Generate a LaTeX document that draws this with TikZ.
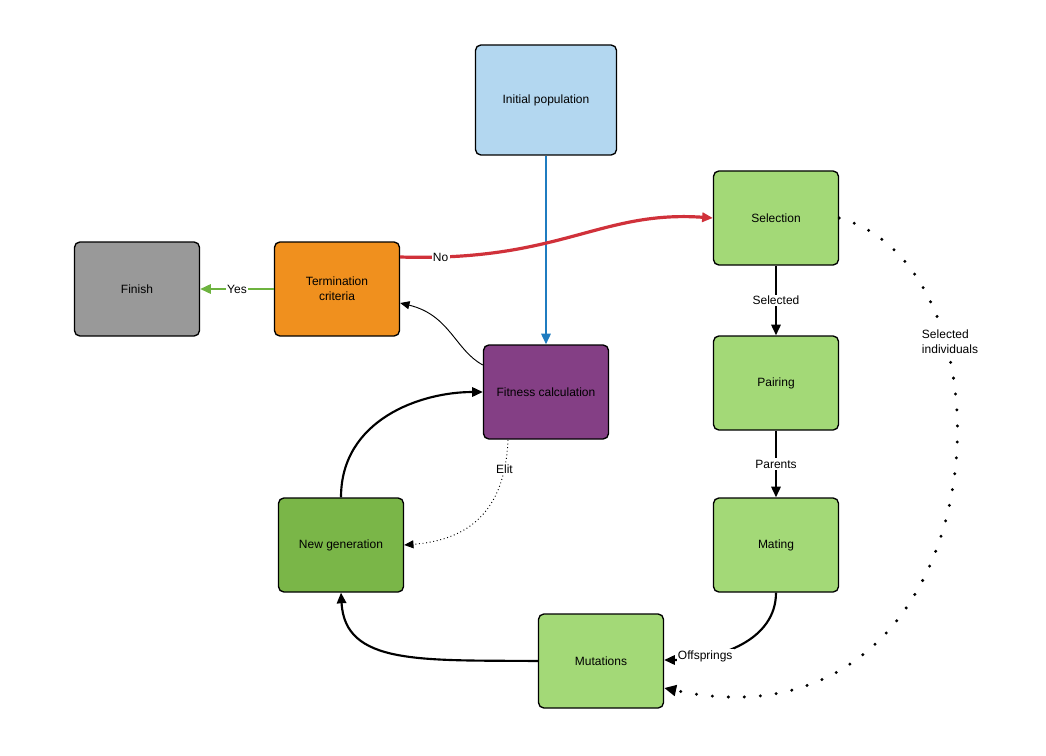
\documentclass[tikz,border=0pt]{standalone}
\usepackage{fontspec}
\setmainfont{Liberation Sans}
\usetikzlibrary{arrows.meta}
\definecolor{cblue}{HTML}{B3D7F0}
\definecolor{cgreen}{HTML}{A3D977}
\definecolor{corange}{HTML}{F0901E}
\definecolor{cgrey}{HTML}{999999}
\definecolor{cpurple}{HTML}{843F85}
\definecolor{cdgreen}{HTML}{7AB648}
\definecolor{ablue}{HTML}{1F7CC0}
\definecolor{ared}{HTML}{D0313A}
\definecolor{agreen}{HTML}{6DB33F}
\begin{document}
\begin{tikzpicture}[x=0.75pt,y=-0.75pt,
 box/.style={draw=black,line width=1pt,rounded corners=4pt,minimum width=93.75pt,minimum height=70.5pt,font=\small,align=center},
 lab/.style={fill=white,font=\small,inner sep=1pt,align=left},
 thk/.style={line width=1.6pt,-{Triangle[length=8pt,width=7pt]}}]
\useasboundingbox (0,0) rectangle (1046,756);
\node[box,fill=cblue,minimum width=105.75pt,minimum height=82.5pt] (init) at (546,100) {Initial population};
\node[box,fill=cgreen] (sel) at (776,218) {Selection};
\node[box,fill=corange] (term) at (337,289) {Termination\\criteria};
\node[box,fill=cgrey] (fin) at (137,289) {Finish};
\node[box,fill=cpurple] (fit) at (546,392) {Fitness calculation};
\node[box,fill=cgreen] (pair) at (776,383) {Pairing};
\node[box,fill=cgreen] (mat) at (776,545) {Mating};
\node[box,fill=cdgreen] (new) at (341,545) {New generation};
\node[box,fill=cgreen] (mut) at (601,661) {Mutations};

\draw[thk,ablue] (init) -- (fit);
\draw[thk,ared,line width=2.4pt] (term.east|-0,257) .. controls (560,262) and (600,210) .. (sel.west) node[pos=0.09,lab,text=black]{No};
\draw[thk,agreen] (term) -- (fin) node[midway,lab,text=black]{Yes};
\draw[-{Triangle[length=7pt,width=6pt]},line width=0.7pt] (fit.west|-0,365) .. controls (455,350) and (450,315) .. (term.east|-0,303);
\draw[thk] (sel) -- (pair) node[midway,lab]{Selected};
\draw[thk] (pair) -- (mat) node[midway,lab]{Parents};
\draw[thk] (mat.south) .. controls (776,640) and (720,660) .. (mut.east|-0,660) node[pos=0.75,lab]{Offsprings};
\draw[thk] (mut.west) .. controls (420,660) and (345,665) .. (new.south);
\draw[thk] (new.north) .. controls (341,420) and (420,392) .. (fit.west);
\draw[dotted,line width=0.7pt,-{Triangle[length=7pt,width=6pt]}] (508,440) .. controls (505,510) and (470,540) .. (new.east) node[pos=0.15,lab]{Elit};
\draw[line width=2.5pt,dash pattern=on 0pt off 12pt,line cap=round,-{Triangle[length=9pt,width=8pt]}] (sel.east) .. controls (1030,270) and (1000,760) .. (mut.east|-0,688);
\node[lab] at (950,342) {Selected\\individuals};
\end{tikzpicture}
\end{document}
